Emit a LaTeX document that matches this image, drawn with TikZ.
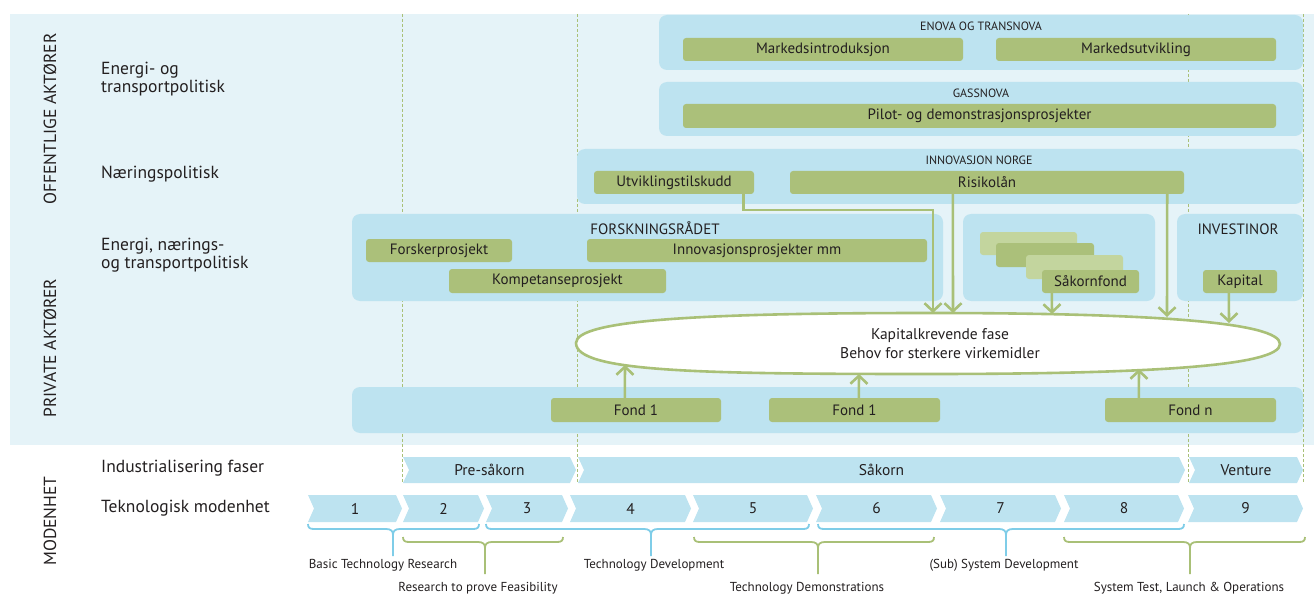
\documentclass[tikz,border=0pt]{standalone}
\usepackage{fontspec}
\setmainfont{PT Sans}
\usetikzlibrary{arrows.meta}
\definecolor{bgpanel}{HTML}{E5F3F8}
\definecolor{panelc}{HTML}{BDE3F0}
\definecolor{gboxc}{HTML}{ABC07A}
\definecolor{lgboxc}{HTML}{C3D59E}
\definecolor{glinec}{HTML}{A9C077}
\definecolor{blinec}{HTML}{7FCDE8}
\definecolor{txtc}{HTML}{231F20}
\newcommand\mybox[7]{\node[#2, minimum width={(#5)-(#3)}, minimum height={(#6)-(#4)}] (#1) at ({((#3)+(#5))/2},{((#4)+(#6))/2}) {#7};}
\newcommand\chev[6]{%
  \fill[chevc] (#2,#4) -- ({#3-6},#4) -- (#3,{(#4+#5)/2}) -- ({#3-6},#5) -- (#2,#5) -- ({#2+6},{(#4+#5)/2}) -- cycle;
  \node[chevtxt] (#1) at ({(#2+#3)/2},{(#4+#5)/2}) {#6};}
\newcommand\mybrace[6]{%
  \draw[bracest,#1] (#2,#5-5) .. controls (#2,#5-1) and (#2+2,#5) .. (#2+6,#5) -- (#4-7,#5) .. controls (#4-2,#5) and (#4,#5+2) .. (#4,#5+6) -- (#4,#6);
  \draw[bracest,#1] (#3,#5-5) .. controls (#3,#5-1) and (#3-2,#5) .. (#3-6,#5) -- (#4+7,#5) .. controls (#4+2,#5) and (#4,#5+2) .. (#4,#5+6);}
\tikzset{
  lbltxt/.style={font=\fontsize{17.5}{18}\selectfont, text=txtc, align=left, anchor=west, inner sep=0pt},
  rottxt/.style={font=\fontsize{17.5}{18}\selectfont, text=txtc, rotate=90, inner sep=0pt},
  captxt/.style={font=\fontsize{12}{13}\selectfont, text=txtc, inner sep=0pt},
  bigcaptxt/.style={font=\fontsize{15}{16}\selectfont, text=txtc, inner sep=0pt},
  panelbox/.style={fill=panelc, rounded corners=8pt, inner sep=0pt},
  gb/.style={fill=gboxc, rounded corners=3pt, text=txtc, font=\fontsize{15}{16}\selectfont, inner sep=0pt},
  lgb/.style={fill=lgboxc, rounded corners=3pt, inner sep=0pt},
  dashln/.style={draw=glinec, line width=0.8pt, dash pattern=on 3pt off 2pt},
  conn/.style={draw=glinec, line width=2.6pt, -{Straight Barb[length=8pt,width=17pt]}},
  chevc/.style={fill=panelc},
  chevtxt/.style={font=\fontsize{15.5}{16}\selectfont, text=txtc, inner sep=0pt},
  bracest/.style={line width=1.8pt},
  smalltxt/.style={font=\fontsize{13}{14}\selectfont, text=txtc, inner sep=0pt},
}
\begin{document}
\begin{tikzpicture}[x=1pt,y=-1pt]
\useasboundingbox (0,0) rectangle (1314,596);
\fill[bgpanel] (10,14) rectangle (1314,445);
\foreach \xx in {402,577,1188,1303} {\draw[dashln] (\xx,14) -- (\xx,483);}

% side labels
\node[rottxt] (offl) at (50,119) {OFFENTLIGE AKTØRER};
\node[rottxt] (priv) at (50,348) {PRIVATE AKTØRER};
\node[rottxt] (moden) at (50,521) {MODENHET};
\node[lbltxt] (l1) at (101,79) {Energi- og\\transportpolitisk};
\node[lbltxt] (l2) at (101,174) {Næringspolitisk};
\node[lbltxt] (l3) at (101,255) {Energi, nærings-\\og transportpolitisk};
\node[lbltxt] (l4) at (101,468) {Industrialisering faser};
\node[lbltxt] (l5) at (101,508) {Teknologisk modenhet};

% panels
\mybox{enova}{panelbox}{659}{15}{1303}{70}{}
\mybox{gassnova}{panelbox}{659}{82}{1303}{136}{}
\mybox{innov}{panelbox}{577}{149}{1303}{204}{}
\mybox{forsk}{panelbox}{352}{214}{943}{301}{}
\mybox{sakpanel}{panelbox}{963}{214}{1155}{301}{}
\mybox{invest}{panelbox}{1177}{214}{1303}{301}{}
\mybox{fondpanel}{panelbox}{352}{387}{1303}{433}{}

\node[captxt] (enovalbl) at (981,26) {ENOVA OG TRANSNOVA};
\node[captxt] (gasslbl) at (981,93) {GASSNOVA};
\node[captxt] (innovlbl) at (979,160) {INNOVASJON NORGE};
\node[bigcaptxt] (forsklbl) at (655,228) {FORSKNINGSRÅDET};
\node[bigcaptxt] (investlbl) at (1238,229) {INVESTINOR};

% green boxes
\mybox{mi}{gb}{683}{38}{963}{61}{Markedsintroduksjon}
\mybox{mu}{gb}{996}{38}{1276}{61}{Markedsutvikling}
\mybox{pilot}{gb}{683}{104}{1276}{128}{Pilot- og demonstrasjonsprosjekter}
\mybox{utv}{gb}{594}{171}{754}{194}{Utviklingstilskudd}
\mybox{risk}{gb}{790}{171}{1184}{194}{Risikolån}
\mybox{forsker}{gb}{366}{239}{512}{262}{Forskerprosjekt}
\mybox{innovp}{gb}{587}{239}{927}{262}{Innovasjonsprosjekter mm}
\mybox{komp}{gb}{449}{269}{666}{293}{Kompetanseprosjekt}
\mybox{st1}{lgb}{980}{232}{1077}{255}{}
\mybox{st2}{gb}{996}{243}{1094}{267}{}
\mybox{st3}{lgb}{1026}{255}{1123}{279}{}
\mybox{sakornfond}{gb}{1042}{270}{1139}{293}{Såkornfond}
\mybox{kapital}{gb}{1203}{270}{1277}{293}{Kapital}
\mybox{fonda}{gb}{551}{398}{721}{422}{Fond 1}
\mybox{fondb}{gb}{769}{398}{940}{422}{Fond 1}
\mybox{fondn}{gb}{1105}{398}{1276}{422}{Fond n}

\coordinate (e1) at (933,313);
\coordinate (e2) at (953,313);
\coordinate (e3) at (1167,317);
\coordinate (e4) at (1052,314);
\coordinate (e5) at (1229,323);
\coordinate (e6) at (625,365);
\coordinate (e7) at (859,374);
\coordinate (e8) at (1139,369);

% ellipse
\filldraw[draw=glinec, fill=white, line width=2.6pt]
  (576,343) .. controls (576,320) and (700,313) .. (928,313)
  .. controls (1150,313) and (1280,322) .. (1280,344)
  .. controls (1280,366) and (1150,374) .. (928,374)
  .. controls (700,374) and (576,372) .. (576,343) -- cycle;
\node[gb, fill=none, align=center, font=\fontsize{15.5}{19}\selectfont] (ell) at (940,344) {Kapitalkrevende fase\\Behov for sterkere virkemidler};

\draw[conn] ([xshift=-11pt]utv.south east) -- ++(0,16) -| (e1);
\draw[conn] ([xshift=163pt]risk.south west) -- (e2);
\draw[conn] ([xshift=-17pt]risk.south east) -- (e3);
\draw[conn] ([xshift=10pt]sakornfond.south west) -- (e4);
\draw[conn] ([xshift=26pt]kapital.south west) -- (e5);
\draw[conn] ([xshift=74pt]fonda.north west) -- (e6);
\draw[conn] ([xshift=90pt]fondb.north west) -- (e7);
\draw[conn] ([xshift=34pt]fondn.north west) -- (e8);

% chevrons
\chev{pre}{403}{576}{457}{483}{Pre-såkorn}
\chev{sak}{578}{1185}{457}{483}{Såkorn}
\chev{ven}{1189}{1303}{457}{483}{Venture}
\chev{t1}{308}{402}{495}{522}{1}
\chev{t2}{403}{484}{495}{522}{2}
\chev{t3}{486}{568}{495}{522}{3}
\chev{t4}{570}{691}{495}{522}{4}
\chev{t5}{693}{813}{495}{522}{5}
\chev{t6}{816}{937}{495}{522}{6}
\chev{t7}{940}{1061}{495}{522}{7}
\chev{t8}{1064}{1184}{495}{522}{8}
\chev{t9}{1188}{1303}{495}{522}{9}

% braces
\mybrace{blinec}{308}{479}{393}{529}{556}
\mybrace{glinec}{403}{563}{485}{542}{574}
\mybrace{blinec}{486}{809}{651}{529}{556}
\mybrace{glinec}{694}{934}{818}{542}{574}
\mybrace{blinec}{818}{1184}{1006}{529}{556}
\mybrace{glinec}{1064}{1305}{1190}{542}{574}

\node[smalltxt] (b1) at (383,565) {Basic Technology Research};
\node[smalltxt] (b2) at (478,588) {Research to prove Feasibility};
\node[smalltxt] (b3) at (654,565) {Technology Development};
\node[smalltxt] (b4) at (807,588) {Technology Demonstrations};
\node[smalltxt] (b5) at (1004,565) {(Sub) System Development};
\node[smalltxt] (b6) at (1189,588) {System Test, Launch \& Operations};
\end{tikzpicture}
\end{document}
